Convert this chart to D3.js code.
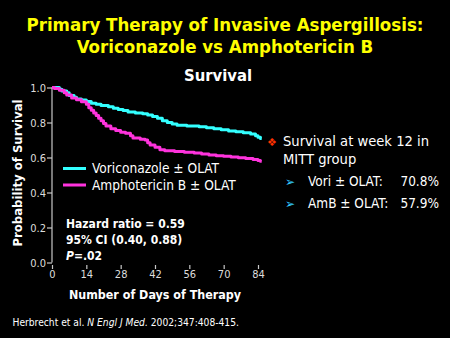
<!DOCTYPE html>
<html><head><meta charset="utf-8">
<script src="https://cdn.jsdelivr.net/npm/d3@7"></script>
<style>
html,body{margin:0;padding:0;background:#000;}
svg{display:block;}
</style></head>
<body>
<script>
// ---- data ----
const titleLines = ["Primary Therapy of Invasive Aspergillosis:", "Voriconazole vs Amphotericin B"];
const subtitle = "Survival";
const seriesNames = ["Voriconazole \u00b1 OLAT", "Amphotericin B \u00b1 OLAT"];
const xTicks = [0, 14, 28, 42, 56, 70, 84];
const yTicks = [0.0, 0.2, 0.4, 0.6, 0.8, 1.0];
const voriDays = [0,3,4,6,7,9,10,12,14,16,18,20,23,25,27,29,31,34,37,39,41,43,45,47,49,51,55,60,63,66,69,72,75,78,81,83,84,85,85.5];
const voriSurv = [1.0,0.99,0.98,0.97,0.955,0.945,0.935,0.928,0.92,0.91,0.905,0.897,0.89,0.882,0.875,0.868,0.86,0.855,0.85,0.843,0.835,0.825,0.81,0.8,0.792,0.785,0.78,0.776,0.77,0.765,0.758,0.752,0.747,0.742,0.735,0.725,0.716,0.708,0.708];
const amphoDays = [0,1,3,5,6,8,10,12,14,15,16,17,18,19,20,21,22,24,26,28,30,32,33,36,38,39,40,42,44,46,50,54,58,61,64,67,70,73,76,79,82,84,85,85.5];
const amphoSurv = [1.0,0.995,0.985,0.97,0.957,0.94,0.93,0.918,0.905,0.885,0.87,0.855,0.84,0.825,0.81,0.795,0.78,0.765,0.755,0.745,0.738,0.725,0.712,0.705,0.7,0.685,0.672,0.658,0.645,0.638,0.634,0.63,0.626,0.62,0.615,0.61,0.607,0.603,0.598,0.594,0.589,0.583,0.579,0.579];
const statsLines = ["Hazard ratio = 0.59", "95% CI (0.40, 0.88)"];
const pValue = "=.02";
const bulletMain = ["Survival at week 12 in", "MITT group"];
const subLabels = ["Vori \u00b1 OLAT:", "AmB \u00b1 OLAT:"];
const subValues = ["70.8%", "57.9%"];
const citation = ["Herbrecht et al. ", "N Engl J Med.", " 2002;347:408-415."];
const xTitle = "Number of Days of Therapy";
const yTitle = "Probability of Survival";
const colors = ["#33ffff", "#ff33dd"];

const W = 450, H = 338;
const FONT = "'DejaVu Sans Condensed','DejaVu Sans',sans-serif";
const svg = d3.select("body").append("svg").attr("width", W).attr("height", H)
  .style("background", "#000").style("font-family", FONT);
svg.append("rect").attr("width", W).attr("height", H).attr("fill", "#000");

// title
svg.selectAll("text.title").data(titleLines).join("text")
  .attr("class", "title")
  .attr("x", 225).attr("y", (d, i) => 31 + i * 21.5)
  .attr("text-anchor", "middle").attr("fill", "#ffff00")
  .attr("font-weight", "bold").attr("font-size", 18.5).text(d => d);

svg.append("text").attr("x", 218).attr("y", 81).attr("text-anchor", "middle")
  .attr("fill", "#ffffff").attr("font-weight", "bold").attr("font-size", 16.5).text(subtitle);

// scales
const x = d3.scaleLinear().domain([0, 84]).range([52, 258]);
const y = d3.scaleLinear().domain([0, 1]).range([262.5, 87.5]);

// y axis
const yAxis = svg.append("g").attr("transform", `translate(${x(0)},0)`)
  .call(d3.axisLeft(y).tickValues(yTicks).tickFormat(d3.format(".1f")).tickSize(5).tickPadding(1));
yAxis.select(".domain").attr("stroke", "#c8c8c8").attr("stroke-width", 1.2).attr("d", `M0,${y(1)}V${y(0)}`);
yAxis.selectAll(".tick line").attr("stroke", "#c8c8c8").attr("stroke-width", 1.2);
yAxis.selectAll(".tick text").attr("fill", "#dddddd").attr("font-size", 11).attr("font-family", FONT);

// x axis (ticks only)
const xAxis = svg.append("g").attr("transform", `translate(0,265)`)
  .call(d3.axisBottom(x).tickValues(xTicks).tickSize(4).tickPadding(1));
xAxis.select(".domain").remove();
xAxis.selectAll(".tick line").attr("stroke", "#c8c8c8").attr("stroke-width", 1.2);
xAxis.selectAll(".tick text").attr("fill", "#dddddd").attr("font-size", 11).attr("font-family", FONT);

// curves
const line = d3.line().x(d => x(d[0])).y(d => y(d[1])).curve(d3.curveStepAfter);
const series = [d3.zip(voriDays, voriSurv), d3.zip(amphoDays, amphoSurv)];
svg.selectAll("path.km").data(series).join("path").attr("class", "km")
  .attr("d", line).attr("fill", "none")
  .attr("stroke", (d, i) => colors[i]).attr("stroke-width", 3).attr("stroke-linejoin", "round");

// legend
const leg = svg.selectAll("g.leg").data(seriesNames).join("g").attr("class", "leg")
  .attr("transform", (d, i) => `translate(63,${168.5 + i * 16.5})`);
leg.append("line").attr("x1", 0).attr("x2", 23).attr("stroke", (d, i) => colors[i]).attr("stroke-width", 3);
leg.append("text").attr("x", 29).attr("y", 4.8).attr("fill", "#fff").attr("font-size", 13.6).text(d => d);

// axis titles
svg.append("text").attr("x", 155).attr("y", 299).attr("text-anchor", "middle")
  .attr("fill", "#fff").attr("font-weight", "bold").attr("font-size", 12.4).text(xTitle);
svg.append("text").attr("transform", "translate(22,173) rotate(-90)").attr("text-anchor", "middle")
  .attr("fill", "#fff").attr("font-weight", "bold").attr("font-size", 13).text(yTitle);

// stats
svg.selectAll("text.stat").data(statsLines).join("text").attr("class", "stat")
  .attr("x", 66).attr("y", (d, i) => 228 + i * 16)
  .attr("fill", "#fff").attr("font-weight", "bold").attr("font-size", 12).text(d => d);
const pt = svg.append("text").attr("x", 66).attr("y", 260).attr("fill", "#fff")
  .attr("font-weight", "bold").attr("font-size", 12);
pt.append("tspan").attr("font-style", "italic").text("P");
pt.append("tspan").text(pValue);

// right side text
svg.append("text").attr("x", 272).attr("y", 145.5).attr("text-anchor", "middle")
  .attr("fill", "#ff3300").attr("font-size", 11).attr("font-family", "'DejaVu Sans'").text("\u2756");
svg.selectAll("text.main").data(bulletMain).join("text").attr("class", "main")
  .attr("x", 283).attr("y", (d, i) => 146 + i * 17.5)
  .attr("fill", "#fff").attr("font-size", 14.6).text(d => d);
svg.selectAll("text.arrow").data(subLabels).join("text").attr("class", "arrow")
  .attr("x", 290).attr("y", (d, i) => 186 + i * 21.5).attr("text-anchor", "middle")
  .attr("fill", "#33ccff").attr("font-size", 12).attr("font-family", "'DejaVu Sans'").text("\u27a2");
svg.selectAll("text.sublab").data(subLabels).join("text").attr("class", "sublab")
  .attr("x", 308).attr("y", (d, i) => 186 + i * 21.5)
  .attr("fill", "#fff").attr("font-size", 13.5).text(d => d);
svg.selectAll("text.subval").data(subValues).join("text").attr("class", "subval")
  .attr("x", 439).attr("y", (d, i) => 186 + i * 21.5).attr("text-anchor", "end")
  .attr("fill", "#fff").attr("font-size", 13.5).text(d => d);

// citation
const ct = svg.append("text").attr("x", 12.5).attr("y", 326).attr("fill", "#fff").attr("font-size", 10.2);
ct.selectAll("tspan").data(citation).join("tspan")
  .attr("font-style", (d, i) => i === 1 ? "italic" : "normal").text(d => d);
</script>
</body></html>
